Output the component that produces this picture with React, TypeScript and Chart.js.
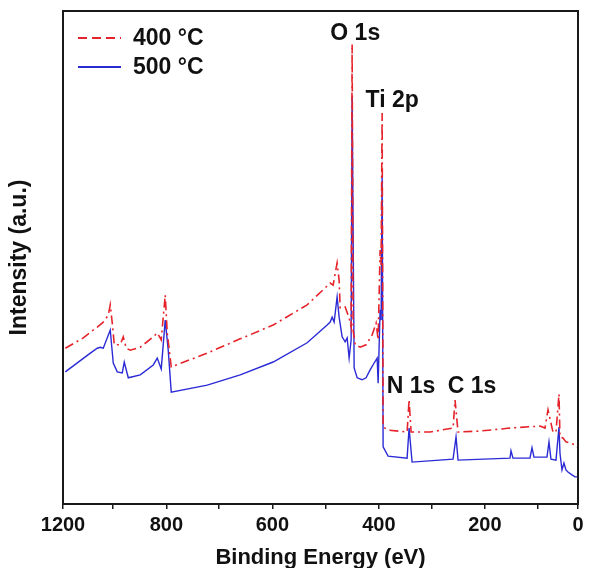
import React, { useEffect, useRef } from "react";
import { Chart, registerables } from "chart.js";

Chart.register(...registerables);

// Binding energy (eV) and intensity (a.u.) for the 400 °C sample
const E_400 = [1194.6, 1152.7, 1120.1, 1106.2, 1094.5, 1089.9, 1085.2, 1080.5, 1066.6, 1059.6, 1052.6, 1043.3, 1020.0, 989.7, 980.4, 971.1, 961.8, 957.1, 947.8, 864.0, 787.1, 710.3, 631.1, 577.5, 570.6, 561.3, 556.6, 554.2, 542.6, 533.3, 528.6, 526.3, 524.0, 519.3, 507.6, 493.7, 479.7, 470.4, 465.7, 461.1, 458.8, 456.4, 454.1, 442.5, 398.2, 393.6, 388.9, 344.7, 291.1, 286.5, 279.5, 228.3, 158.4, 88.6, 76.9, 69.9, 63.0, 58.3, 51.3, 44.3, 42.0, 35.0, 28.0, 18.7, 7.1, 0];
const I_400 = [31.6, 33.7, 35.9, 36.9, 38.3, 40.4, 36.7, 32.3, 32.3, 33.9, 31.6, 31.2, 31.8, 33.9, 34.7, 33.3, 42.4, 34.7, 27.8, 30.6, 33.5, 36.3, 40.4, 44.8, 44.4, 48.9, 45.4, 39.8, 40.0, 37.7, 35.9, 93.2, 35.3, 32.3, 31.8, 32.3, 34.3, 36.7, 33.3, 51.5, 48.5, 79.3, 15.6, 15.0, 14.6, 21.1, 14.6, 14.6, 15.4, 21.1, 14.6, 14.8, 15.4, 15.8, 15.4, 19.1, 16.4, 14.6, 14.6, 22.3, 13.6, 13.4, 12.6, 12.4, 12.0, 11.4];

// Binding energy (eV) and intensity (a.u.) for the 500 °C sample
const E_500 = [1194.6, 1136.4, 1120.1, 1113.1, 1106.2, 1089.9, 1082.9, 1073.6, 1061.9, 1057.3, 1047.9, 1020.0, 989.7, 980.4, 971.1, 961.8, 954.8, 947.8, 864.0, 787.1, 710.3, 631.1, 584.5, 577.5, 572.9, 568.2, 561.3, 556.6, 549.6, 542.6, 537.9, 533.3, 528.6, 526.3, 521.6, 514.6, 503.0, 493.7, 484.4, 475.0, 468.0, 465.7, 461.1, 458.8, 456.4, 454.1, 442.5, 398.2, 393.6, 386.6, 291.1, 284.2, 279.5, 158.4, 156.1, 151.5, 111.9, 107.2, 102.6, 72.3, 67.6, 63.0, 51.3, 44.3, 42.0, 37.3, 32.7, 28.0, 23.4, 14.0, 7.1, 0];
const I_500 = [26.8, 30.6, 31.6, 31.8, 31.6, 35.3, 28.6, 26.8, 26.6, 28.8, 25.6, 26.2, 28.2, 29.6, 27.4, 37.3, 31.2, 22.7, 24.1, 26.2, 28.8, 32.7, 36.3, 36.9, 37.9, 36.9, 42.0, 37.9, 33.9, 32.9, 33.7, 29.6, 33.3, 82.6, 27.6, 25.6, 25.2, 25.6, 27.2, 28.6, 29.6, 24.5, 39.4, 37.3, 66.7, 11.6, 9.7, 9.3, 15.4, 8.5, 9.1, 13.6, 8.9, 9.3, 10.8, 9.3, 9.3, 11.4, 9.5, 9.5, 12.6, 9.1, 8.9, 15.6, 10.3, 6.9, 8.3, 6.9, 6.5, 5.9, 5.5, 5.5];

const SERIES_LABELS = ["400 °C", "500 °C"];
const SERIES_COLORS = ["#e5232b", "#2b2bd6"];

// x-axis tick positions (as drawn in the original figure) and their labels
const XTICK_POS = [1200, 1083, 959, 836, 712, 588, 464, 341, 217, 93, 0];
const XTICK_LABELS = ["1200", "", "800", "", "600", "", "400", "", "200", "", "0"];

// peak annotations
const PEAK_LABELS = ["O 1s", "Ti 2p", "N 1s", "C 1s"];
const PEAK_E = [519, 433, 389, 247];
const PEAK_I = [95.5, 81.9, 23.9, 23.9];

const FONT = "'Liberation Sans', Arial, sans-serif";

const decorPlugin = {
  id: "decor",
  afterDraw(chart: any) {
    const { ctx, chartArea, scales } = chart;
    ctx.save();
    // frame
    ctx.strokeStyle = "#1a1a1a";
    ctx.lineWidth = 2;
    ctx.strokeRect(chartArea.left, chartArea.top, chartArea.right - chartArea.left, chartArea.bottom - chartArea.top);

    // legend
    ctx.font = `bold 23px ${FONT}`;
    ctx.textBaseline = "middle";
    ctx.textAlign = "left";
    chart.data.datasets.forEach((ds: any, i: number) => {
      const y = chartArea.top + 27 + i * 29;
      const x0 = chartArea.left + 15;
      ctx.beginPath();
      ctx.strokeStyle = ds.borderColor;
      ctx.lineWidth = 2;
      ctx.setLineDash(i === 0 ? [9, 5] : []);
      ctx.moveTo(x0, y);
      ctx.lineTo(x0 + 43, y);
      ctx.stroke();
      ctx.setLineDash([]);
      ctx.fillStyle = "#111";
      ctx.fillText(ds.label, x0 + 55, y + 1);
    });

    // peak labels
    ctx.textAlign = "center";
    ctx.fillStyle = "#111";
    PEAK_LABELS.forEach((t, i) => {
      const x = scales.x.getPixelForValue(PEAK_E[i]);
      const y = scales.y.getPixelForValue(PEAK_I[i]);
      ctx.fillText(t, x, y);
    });
    ctx.restore();
  },
};

export default function App() {
  const ref = useRef<HTMLCanvasElement | null>(null);

  useEffect(() => {
    document.body.style.margin = "0";
    const canvas = ref.current;
    if (!canvas) return;
    const chart = new Chart(canvas, {
      type: "line",
      data: {
        datasets: [
          {
            label: SERIES_LABELS[0],
            data: E_400.map((x, i) => ({ x, y: I_400[i] })),
            borderColor: SERIES_COLORS[0],
            borderWidth: 1.6,
            borderDash: [9, 4, 2, 4],
            pointRadius: 0,
            tension: 0,
            fill: false,
          },
          {
            label: SERIES_LABELS[1],
            data: E_500.map((x, i) => ({ x, y: I_500[i] })),
            borderColor: SERIES_COLORS[1],
            borderWidth: 1.4,
            pointRadius: 0,
            tension: 0,
            fill: false,
          },
        ],
      },
      options: {
        responsive: false,
        animation: false,
        layout: { padding: { top: 11, right: 11, bottom: 0, left: 0 } },
        plugins: {
          legend: { display: false },
          tooltip: { enabled: false },
        },
        scales: {
          x: {
            type: "linear",
            min: 0,
            max: 1200,
            reverse: true,
            afterBuildTicks: (axis: any) => {
              axis.ticks = XTICK_POS.map((v) => ({ value: v }));
            },
            afterFit: (axis: any) => {
              axis.height = 64;
            },
            ticks: {
              autoSkip: false,
              maxRotation: 0,
              minRotation: 0,
              padding: 4,
              color: "#111",
              font: { family: FONT, size: 20, weight: "bold" },
              callback: (value: any) => {
                const k = XTICK_POS.indexOf(Number(value));
                return k >= 0 ? XTICK_LABELS[k] : "";
              },
            },
            grid: {
              display: true,
              drawOnChartArea: false,
              drawTicks: true,
              tickLength: 5,
              color: "#1a1a1a",
              lineWidth: 1.5,
            },
            border: { display: false },
            title: {
              display: true,
              text: "Binding Energy (eV)",
              color: "#111",
              font: { family: FONT, size: 22, weight: "bold", lineHeight: 1 },
              padding: { top: 0, bottom: -1 },
            },
          },
          y: {
            type: "linear",
            min: 0,
            max: 100,
            afterFit: (axis: any) => {
              axis.width = 63;
            },
            ticks: { display: false },
            grid: { display: false },
            border: { display: false },
            title: {
              display: true,
              text: "Intensity (a.u.)",
              color: "#111",
              font: { family: FONT, size: 23, weight: "bold", lineHeight: 1 },
              padding: { top: 8, bottom: 0 },
            },
          },
        },
      },
      plugins: [decorPlugin],
    } as any);
    return () => chart.destroy();
  }, []);

  return (
    <div style={{ width: 589, height: 568, background: "#fff" }}>
      <canvas ref={ref} width={589} height={568} style={{ display: "block" }} />
    </div>
  );
}
